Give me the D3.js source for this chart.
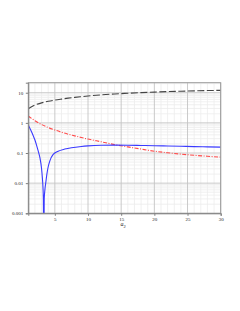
<!DOCTYPE html>
<html lang="en">
  <head>
    <meta charset="UTF-8" />
    <title>Curves vs a2</title>
    <script src="https://d3js.org/d3.v7.min.js"></script>
    <style>
      body {
        margin: 0;
        background: #fff;
      }
      text {
        font-family: "Liberation Serif", "DejaVu Serif", serif;
      }
      .axis path,
      .axis line {
        stroke: #808080;
      }
      .axis text {
        font-size: 5px;
        fill: #222;
      }
    </style>
  </head>
  <body>
    <svg id="chart" width="240" height="311"></svg>

    <script>
      // tick values
      const xTicks = [5, 10, 15, 20, 25, 30];
      const yTicks = [0.001, 0.01, 0.1, 1, 10];
      const yTickLabels = ["0.001", "0.01", "0.1", "1", "10"];

      // black dashed curve
      const blackX = [1, 1.5, 2, 3, 4, 5, 6, 7, 8, 9, 10, 12, 14, 16, 18, 20, 22, 24, 26, 28, 30];
      const blackY = [2.95, 3.45, 3.9, 4.6, 5.2, 5.7, 6.15, 6.6, 7.0, 7.4, 7.8, 8.5, 9.1, 9.6, 10.1, 10.5, 10.9, 11.2, 11.5, 11.8, 12.0];

      // red dash-dot curve
      const redX = [1, 1.5, 2, 3, 4, 5, 6, 7, 8, 9, 10, 12, 14, 16, 18, 20, 22, 24, 26, 28, 30];
      const redY = [1.69, 1.4, 1.18, 0.88, 0.7, 0.58, 0.49, 0.42, 0.37, 0.325, 0.29, 0.235, 0.19, 0.16, 0.135, 0.115, 0.102, 0.092, 0.084, 0.078, 0.073];

      // blue solid curve (absolute value, zero near 3.33)
      const blueX = [1, 1.25, 1.5, 1.75, 2, 2.25, 2.5, 2.75, 3, 3.1, 3.2, 3.27, 3.33, 3.4, 3.5, 3.65, 3.8, 4, 4.25, 4.75, 5.5, 6.5, 7.5, 9, 10, 12, 14, 16, 18, 20, 22, 24, 26, 28, 30];
      const blueY = [0.85, 0.65, 0.5, 0.37, 0.27, 0.18, 0.115, 0.07, 0.03, 0.017, 0.008, 0.003, 0.00001, 0.003, 0.006, 0.011, 0.02, 0.035, 0.055, 0.09, 0.115, 0.135, 0.15, 0.165, 0.172, 0.18, 0.182, 0.181, 0.178, 0.175, 0.171, 0.167, 0.163, 0.16, 0.157];

      const svg = d3.select("#chart");

      const x = d3.scaleLinear().domain([1, 30]).range([28.3, 220.7]);
      const y = d3.scaleLog().domain([0.001, 21.5]).range([213.3, 82.7]);

      // minor grid
      const xMinor = d3.range(2, 30).filter((v) => v % 5 !== 0);
      const yMinor = [];
      [0.001, 0.01, 0.1, 1, 10].forEach((d) => {
        for (let k = 2; k <= 9; k++) if (d * k < 21.5) yMinor.push(d * k);
      });

      const grid = svg.append("g");
      grid
        .selectAll(".xm")
        .data(xMinor)
        .enter()
        .append("line")
        .attr("x1", (d) => x(d))
        .attr("x2", (d) => x(d))
        .attr("y1", y.range()[0])
        .attr("y2", y.range()[1])
        .attr("stroke", "#ececec")
        .attr("stroke-width", 0.8);
      grid
        .selectAll(".ym")
        .data(yMinor)
        .enter()
        .append("line")
        .attr("x1", x.range()[0])
        .attr("x2", x.range()[1])
        .attr("y1", (d) => y(d))
        .attr("y2", (d) => y(d))
        .attr("stroke", "#ececec")
        .attr("stroke-width", 0.8);
      grid
        .selectAll(".xM")
        .data(xTicks)
        .enter()
        .append("line")
        .attr("x1", (d) => x(d))
        .attr("x2", (d) => x(d))
        .attr("y1", y.range()[0])
        .attr("y2", y.range()[1])
        .attr("stroke", "#c4c4c4")
        .attr("stroke-width", 0.9);
      grid
        .selectAll(".yM")
        .data(yTicks)
        .enter()
        .append("line")
        .attr("x1", x.range()[0])
        .attr("x2", x.range()[1])
        .attr("y1", (d) => y(d))
        .attr("y2", (d) => y(d))
        .attr("stroke", "#c4c4c4")
        .attr("stroke-width", 0.9);

      // curves
      const clip = svg
        .append("clipPath")
        .attr("id", "plot-clip")
        .append("rect")
        .attr("x", x.range()[0])
        .attr("y", y.range()[1])
        .attr("width", x.range()[1] - x.range()[0])
        .attr("height", y.range()[0] - y.range()[1]);

      const line = d3
        .line()
        .x((d) => x(d[0]))
        .y((d) => y(d[1]))
        .curve(d3.curveMonotoneX);

      const curves = svg.append("g").attr("clip-path", "url(#plot-clip)");

      curves
        .append("path")
        .attr("d", line(d3.zip(blackX, blackY)))
        .attr("fill", "none")
        .attr("stroke", "#444")
        .attr("stroke-width", 1.1)
        .attr("stroke-dasharray", "7,2.5");

      curves
        .append("path")
        .attr("d", line(d3.zip(redX, redY)))
        .attr("fill", "none")
        .attr("stroke", "#ff4a4a")
        .attr("stroke-width", 1.1)
        .attr("stroke-dasharray", "4,1.5,1,1.5");

      curves
        .append("path")
        .attr("d", line(d3.zip(blueX, blueY)))
        .attr("fill", "none")
        .attr("stroke", "#3a3aff")
        .attr("stroke-width", 1.1);

      // frame
      svg
        .append("rect")
        .attr("x", x.range()[0])
        .attr("y", y.range()[1])
        .attr("width", x.range()[1] - x.range()[0])
        .attr("height", y.range()[0] - y.range()[1])
        .attr("fill", "none")
        .attr("stroke", "#9a9a9a")
        .attr("stroke-width", 1);

      // axes
      svg
        .append("g")
        .attr("class", "axis")
        .attr("transform", `translate(0,${y.range()[0]})`)
        .call(d3.axisBottom(x).tickValues(xTicks).tickSize(2.5).tickPadding(2).tickFormat(d3.format("d")));

      svg
        .append("g")
        .attr("class", "axis")
        .attr("transform", `translate(${x.range()[0]},0)`)
        .call(
          d3
            .axisLeft(y)
            .tickValues(yTicks)
            .tickSize(2.5)
            .tickPadding(2.5)
            .tickFormat((d, i) => yTickLabels[i])
        );

      // x label
      const xl = svg
        .append("text")
        .attr("x", 123)
        .attr("y", 226)
        .attr("text-anchor", "middle")
        .attr("font-size", 6)
        .attr("fill", "#222");
      xl.append("tspan").attr("font-style", "italic").text("a");
      xl.append("tspan").attr("font-size", 4.5).attr("dy", 1.5).text("2");
    </script>
  </body>
</html>
